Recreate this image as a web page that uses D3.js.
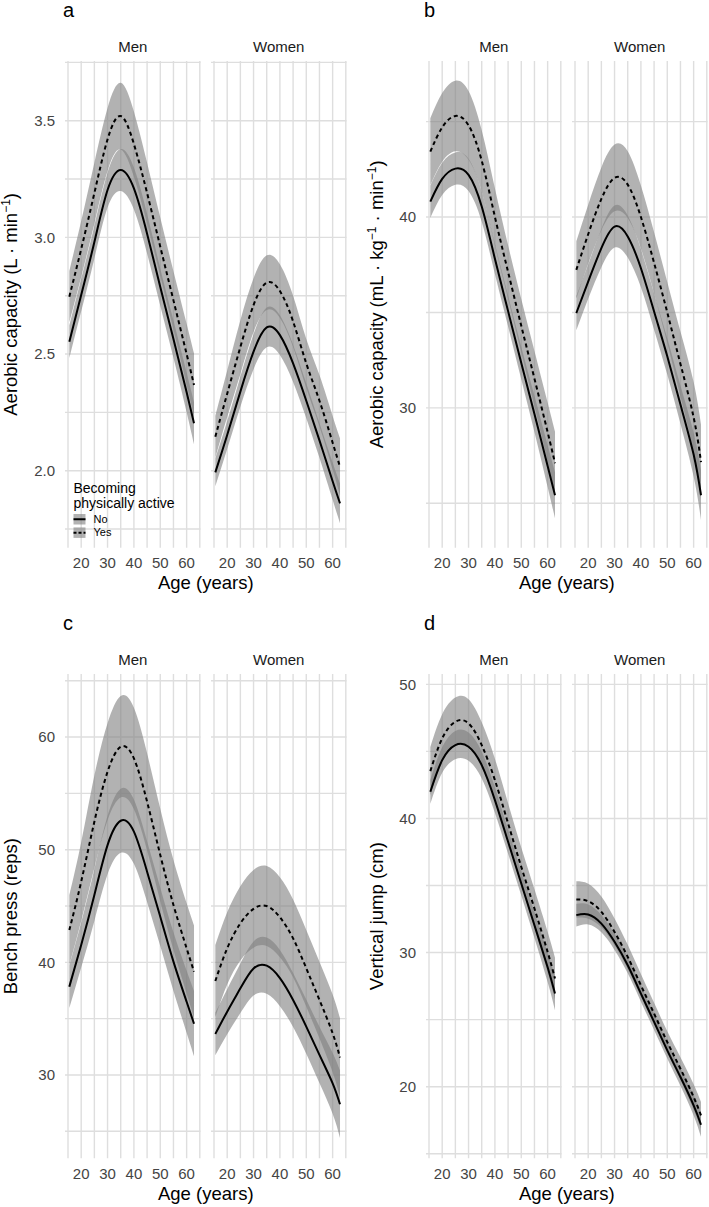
<!DOCTYPE html>
<html>
<head>
<meta charset="utf-8">
<script src="https://cdn.jsdelivr.net/npm/d3@7"></script>
<style>
  body { margin: 0; background: #fff; }
  svg { font-family: "Liberation Sans", Arial, Helvetica, sans-serif; }
</style>
</head>
<body>
<svg id="chart" width="709" height="1207"></svg>
<script>
const ages = [15.5, 20, 25, 30, 35, 40, 45, 50, 55, 60, 62.8];
const sexes = ["Men", "Women"];
const groups = ["No", "Yes"];
const xTicks = [20, 30, 40, 50, 60];
const xMinor = [15, 25, 35, 45, 55, 65];

// a: aerobic capacity (L/min)
const aMenNo      = [2.553, 2.753, 2.980, 3.203, 3.289, 3.210, 3.016, 2.787, 2.564, 2.336, 2.203];
const aMenNoCI    = [0.07, 0.07, 0.07, 0.075, 0.09, 0.09, 0.085, 0.08, 0.08, 0.085, 0.09];
const aMenYes     = [2.746, 2.95, 3.19, 3.42, 3.520, 3.40, 3.19, 2.96, 2.73, 2.50, 2.367];
const aMenYesCI   = [0.11, 0.12, 0.13, 0.135, 0.143, 0.14, 0.13, 0.125, 0.125, 0.13, 0.136];
const aWomenNo    = [1.993, 2.153, 2.339, 2.510, 2.614, 2.581, 2.460, 2.300, 2.130, 1.955, 1.860];
const aWomenNoCI  = [0.06, 0.06, 0.065, 0.075, 0.085, 0.085, 0.08, 0.075, 0.075, 0.08, 0.085];
const aWomenYes   = [2.146, 2.33, 2.53, 2.71, 2.806, 2.77, 2.64, 2.46, 2.30, 2.12, 2.017];
const aWomenYesCI = [0.09, 0.1, 0.115, 0.115, 0.117, 0.115, 0.11, 0.105, 0.11, 0.115, 0.122];
const aTicks = [2.0, 2.5, 3.0, 3.5];
const aMinor = [1.75, 2.25, 2.75, 3.25, 3.75];

// b: aerobic capacity (mL/kg/min)
const bMenNo      = [40.81, 42.0, 42.54, 42.21, 40.55, 37.81, 35.07, 32.35, 29.68, 26.95, 25.42];
const bMenNoCI    = [0.85, 0.85, 0.85, 0.85, 0.8, 0.8, 0.8, 0.85, 0.95, 1.1, 1.2];
const bMenYes     = [43.43, 44.70, 45.30, 44.81, 42.95, 40.01, 37.12, 34.30, 31.53, 28.73, 27.10];
const bMenYesCI   = [1.75, 1.8, 1.85, 1.8, 1.6, 1.5, 1.4, 1.4, 1.45, 1.55, 1.65];
const bWomenNo    = [34.97, 36.62, 38.37, 39.50, 38.98, 37.32, 35.05, 32.70, 30.17, 27.55, 25.42];
const bWomenNoCI  = [0.9, 0.9, 1.0, 1.1, 1.1, 1.0, 0.95, 0.95, 1.0, 1.15, 1.3];
const bWomenYes   = [37.23, 39.1, 40.95, 42.05, 41.7, 40.0, 37.6, 35.0, 32.3, 29.5, 27.16];
const bWomenYesCI = [1.5, 1.55, 1.65, 1.75, 1.75, 1.65, 1.6, 1.6, 1.7, 1.85, 1.95];
const bTicks = [30, 40];
const bMinor = [25, 35, 45];

// c: bench press (reps)
const cMenNo      = [37.84, 41.54, 45.98, 50.41, 52.57, 51.6, 48.05, 44.05, 40.06, 36.5, 34.55];
const cMenNoCI    = [1.9, 2.0, 2.3, 2.6, 2.85, 2.85, 2.7, 2.6, 2.6, 2.75, 2.9];
const cMenYes     = [42.87, 47.16, 52.49, 56.92, 59.14, 58.1, 54.26, 49.53, 45.09, 41.24, 39.17];
const cMenYesCI   = [3.1, 3.5, 4.1, 4.3, 4.5, 4.5, 4.3, 4.1, 4.0, 4.0, 4.1];
const cWomenNo    = [33.64, 35.62, 37.69, 39.45, 39.70, 38.6, 36.66, 34.29, 31.78, 29.26, 27.40];
const cWomenNoCI  = [1.9, 2.0, 2.2, 2.4, 2.5, 2.5, 2.4, 2.4, 2.5, 2.7, 3.0];
const cWomenYes   = [38.34, 41.24, 43.46, 44.75, 45.0, 44.0, 42.13, 39.47, 36.66, 33.7, 31.54];
const cWomenYesCI = [3.2, 3.2, 3.3, 3.45, 3.55, 3.55, 3.45, 3.4, 3.4, 3.45, 3.5];
const cTicks = [30, 40, 50, 60];
const cMinor = [25, 35, 45, 55, 65];

// d: vertical jump (cm)
const dMenNo      = [41.99, 44.35, 45.47, 45.35, 43.98, 41.37, 38.26, 35.15, 32.04, 28.9, 26.94];
const dMenNoCI    = [0.9, 0.95, 1.05, 1.05, 1.0, 0.95, 0.9, 0.9, 0.95, 1.1, 1.25];
const dMenYes     = [43.53, 45.97, 47.21, 47.09, 45.47, 42.86, 39.63, 36.39, 33.28, 30.05, 28.06];
const dMenYesCI   = [1.8, 1.8, 1.8, 1.8, 1.7, 1.6, 1.5, 1.45, 1.45, 1.5, 1.55];
const dWomenNo    = [32.79, 32.84, 32.16, 30.80, 29.05, 26.94, 24.83, 22.71, 20.72, 18.61, 17.16];
const dWomenNoCI  = [0.85, 0.75, 0.65, 0.6, 0.6, 0.6, 0.6, 0.6, 0.65, 0.75, 0.9];
const dWomenYes   = [33.96, 33.83, 33.03, 31.54, 29.68, 27.56, 25.45, 23.33, 21.34, 19.23, 17.86];
const dWomenYesCI = [1.35, 1.3, 1.15, 1.0, 0.9, 0.85, 0.8, 0.8, 0.85, 0.95, 1.0];
const dTicks = [20, 30, 40, 50];
const dMinor = [15, 25, 35, 45];

const panels = [
  { letter: "a", left: [65, 211], top: 61, bottom: 547.7, yDomain: [1.67, 3.756],
    ticks: aTicks, minor: aMinor, fmt: d3.format(".1f"), titleX: 16.5,
    title: [["Aerobic capacity (L · min", 0], ["−1", 1], [")", 0]],
    data: { Men: [aMenNo, aMenNoCI, aMenYes, aMenYesCI], Women: [aWomenNo, aWomenNoCI, aWomenYes, aWomenYesCI] },
    legend: true },
  { letter: "b", left: [426, 572], top: 61, bottom: 547.7, yDomain: [22.67, 48.18],
    ticks: bTicks, minor: bMinor, fmt: d3.format("d"), titleX: 383,
    title: [["Aerobic capacity (mL · kg", 0], ["−1", 1], [" · min", 0], ["−1", 1], [")", 0]],
    data: { Men: [bMenNo, bMenNoCI, bMenYes, bMenYesCI], Women: [bWomenNo, bWomenNoCI, bWomenYes, bWomenYesCI] } },
  { letter: "c", left: [65, 211], top: 674, bottom: 1158.3, yDomain: [22.6, 65.6],
    ticks: cTicks, minor: cMinor, fmt: d3.format("d"), titleX: 16.5,
    title: [["Bench press (reps)", 0]],
    data: { Men: [cMenNo, cMenNoCI, cMenYes, cMenYesCI], Women: [cWomenNo, cWomenNoCI, cWomenYes, cWomenYesCI] } },
  { letter: "d", left: [426, 572], top: 674, bottom: 1158.3, yDomain: [14.66, 50.77],
    ticks: dTicks, minor: dMinor, fmt: d3.format("d"), titleX: 383,
    title: [["Vertical jump (cm)", 0]],
    data: { Men: [dMenNo, dMenNoCI, dMenYes, dMenYesCI], Women: [dWomenNo, dWomenNoCI, dWomenYes, dWomenYesCI] } }
];

const facetW = 135.5;
const gridColor = "#dedede";
const ribbonFill = "#7f7f7f", ribbonAlpha = 0.6;

const svg = d3.select("#chart");

panels.forEach(function (p) {
  const g = svg.append("g");
  const y = d3.scaleLinear().domain(p.yDomain).range([p.bottom, p.top]);

  // panel letter
  g.append("text").attr("x", p.left[0] - 2).attr("y", p.top - 44.5)
    .attr("font-size", 20).attr("fill", "#000").text(p.letter);

  sexes.forEach(function (sex, si) {
    const x0 = p.left[si];
    const x = d3.scaleLinear().domain([13.86, 65.26]).range([x0, x0 + facetW]);
    const fg = g.append("g");

    // grid
    fg.selectAll("line.vg").data(xTicks.concat(xMinor)).enter().append("line")
      .attr("x1", d => x(d)).attr("x2", d => x(d))
      .attr("y1", p.top).attr("y2", p.bottom)
      .attr("stroke", gridColor).attr("stroke-width", 1.4);
    fg.selectAll("line.hg").data(p.ticks.concat(p.minor)).enter().append("line")
      .attr("x1", x0).attr("x2", x0 + facetW)
      .attr("y1", d => y(d)).attr("y2", d => y(d))
      .attr("stroke", gridColor).attr("stroke-width", 1.4);

    // strip label
    fg.append("text").attr("x", x0 + facetW / 2).attr("y", p.top - 9.5)
      .attr("text-anchor", "middle").attr("font-size", 15).attr("fill", "#1a1a1a").text(sex);

    // x tick labels
    fg.selectAll("text.xt").data(xTicks).enter().append("text")
      .attr("x", d => x(d)).attr("y", p.bottom + 20.5)
      .attr("text-anchor", "middle").attr("font-size", 15).attr("fill", "#444")
      .text(d => d);

    const s = p.data[sex];
    const series = [
      { key: "No", fit: s[0], ci: s[1], dash: null },
      { key: "Yes", fit: s[2], ci: s[3], dash: "4,3.2" }
    ];

    const area = d3.area().curve(d3.curveNatural)
      .x(d => x(d.age)).y0(d => y(d.fit - d.ci)).y1(d => y(d.fit + d.ci));
    const line = d3.line().curve(d3.curveNatural)
      .x(d => x(d.age)).y(d => y(d.fit));

    series.forEach(function (sr) {
      sr.pts = ages.map((a, i) => ({ age: a, fit: sr.fit[i], ci: sr.ci[i] }));
      fg.append("path").attr("d", area(sr.pts))
        .attr("fill", ribbonFill).attr("fill-opacity", ribbonAlpha);
    });
    series.forEach(function (sr) {
      fg.append("path").attr("d", line(sr.pts))
        .attr("fill", "none").attr("stroke", "#000").attr("stroke-width", 2)
        .attr("stroke-dasharray", sr.dash);
    });
  });

  // y tick labels
  g.selectAll("text.yt").data(p.ticks).enter().append("text")
    .attr("x", p.left[0] - 10).attr("y", d => y(d)).attr("dy", "0.35em")
    .attr("text-anchor", "end").attr("font-size", 15).attr("fill", "#444")
    .text(d => p.fmt(d));

  // x axis title
  g.append("text").attr("x", (p.left[0] + p.left[1] + facetW) / 2).attr("y", p.bottom + 41.5)
    .attr("text-anchor", "middle").attr("font-size", 18.5).attr("fill", "#000")
    .text("Age (years)");

  // y axis title
  const yt = g.append("text")
    .attr("transform", "translate(" + p.titleX + "," + (p.top + p.bottom) / 2 + ") rotate(-90)")
    .attr("text-anchor", "middle").attr("font-size", 18.5).attr("fill", "#000");
  p.title.forEach(function (part) {
    if (part[1]) {
      yt.append("tspan").attr("dy", -7).attr("font-size", 12).text(part[0]);
    } else {
      const t = yt.append("tspan").text(part[0]);
      if (yt.selectAll("tspan").size() > 1) t.attr("dy", 7);
    }
  });

  // legend
  if (p.legend) {
    const lg = g.append("g");
    lg.append("text").attr("x", 73.5).attr("y", 493).attr("font-size", 14).attr("fill", "#000").text("Becoming");
    lg.append("text").attr("x", 73.5).attr("y", 508).attr("font-size", 14).attr("fill", "#000").text("physically active");
    groups.forEach(function (k, i) {
      const ky = 514 + i * 13.4;
      lg.append("rect").attr("x", 73.5).attr("y", ky).attr("width", 12).attr("height", 10.5)
        .attr("fill", ribbonFill).attr("fill-opacity", ribbonAlpha);
      lg.append("line").attr("x1", 73.5).attr("x2", 85.5).attr("y1", ky + 5.25).attr("y2", ky + 5.25)
        .attr("stroke", "#000").attr("stroke-width", 2)
        .attr("stroke-dasharray", i ? "3,2" : null);
      lg.append("text").attr("x", 93.5).attr("y", ky + 9).attr("font-size", 11).attr("fill", "#000").text(k);
    });
  }
});
</script>
</body>
</html>
